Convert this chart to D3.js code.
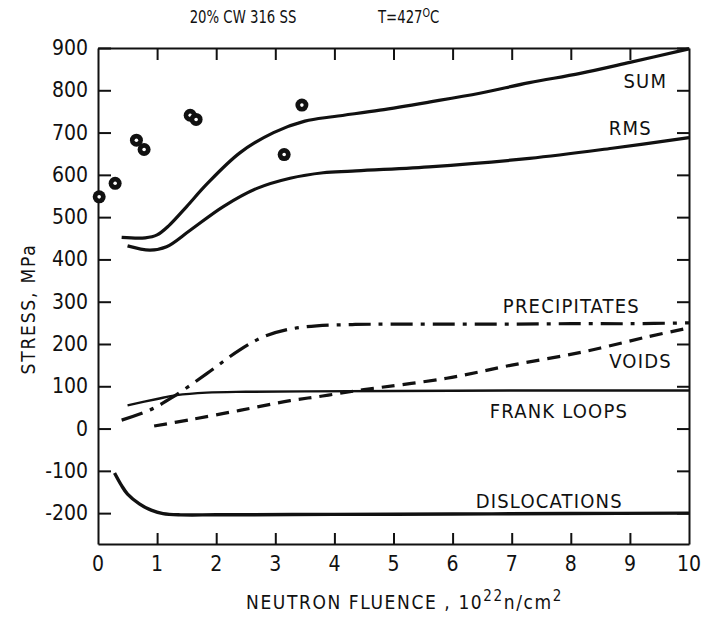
<!DOCTYPE html>
<html>
<head>
<meta charset="utf-8">
<script src="https://cdn.jsdelivr.net/npm/d3@7/dist/d3.min.js"></script>
<style>
  body { margin: 0; background: #fff; }
  text { font-family: "Liberation Sans Narrow", "DejaVu Sans Condensed", "DejaVu Sans", sans-serif; font-stretch: condensed; fill: #111; }
  .axis path, .axis line { stroke: #111; stroke-width: 2; }
</style>
</head>
<body>
<script>
// values (x = fluence 1e22 n/cm2, y = stress MPa)
const xTicks = [0, 1, 2, 3, 4, 5, 6, 7, 8, 9, 10];
const yTicks = [-200, -100, 0, 100, 200, 300, 400, 500, 600, 700, 800, 900];

const sumCurve = [[0.4, 452], [0.8, 451], [1.0, 458], [1.2, 480], [1.5, 525], [1.84, 578], [2.4, 652], [2.97, 700],
  [3.5, 727], [4.0, 738], [4.77, 753], [5.6, 772], [6.46, 793], [7.3, 818], [8.16, 840], [9.0, 866], [10, 898]];
const rmsCurve = [[0.5, 432], [0.88, 422], [1.16, 430], [1.56, 469], [2.12, 525], [2.69, 568], [3.25, 592],
  [3.81, 605], [4.3, 609], [5.6, 619], [7.3, 639], [8.7, 663], [10, 688]];
const precipCurve = [[0.4, 20], [0.88, 44], [1.27, 75], [1.84, 130], [2.4, 186], [2.8, 217], [3.2, 234],
  [3.7, 243], [4.3, 246], [5, 247], [6, 247], [7, 247], [8, 248], [9, 248], [10, 250]];
const voidsCurve = [[0.95, 6], [1.56, 21], [2.4, 43], [3.25, 66], [3.8, 77], [4.5, 92], [5.9, 119],
  [7.0, 150], [8.2, 181], [9.3, 217], [10, 238]];
const frankCurve = [[0.5, 55], [1.0, 70], [1.33, 79], [1.84, 85], [2.5, 87], [3.5, 88], [5, 89], [7, 90], [10, 90]];
const dislCurve = [[0.28, -105], [0.4, -135], [0.5, -155], [0.7, -178], [0.9, -193], [1.1, -201], [1.4, -204],
  [2, -204], [4, -203], [6, -202], [8, -201], [10, -200]];

const testPoints = [[0.02, 548], [0.29, 580], [0.65, 682], [0.78, 660], [1.56, 741], [1.66, 731], [3.15, 648], [3.45, 765]];

const curveNames = ["SUM", "RMS", "PRECIPITATES", "VOIDS", "FRANK LOOPS", "DISLOCATIONS"];
// label anchor (end of text, baseline) in data units
const labelSpots = [[9.63, 805], [9.37, 694], [9.17, 273], [9.71, 143], [8.97, 25], [8.88, -188]];

const width = 703, height = 628;
const svg = d3.select("body").append("svg")
  .attr("width", width)
  .attr("height", height);

const x = d3.scaleLinear().domain([0, 10]).range([98, 689]);
const y = d3.scaleLinear().domain([-273, 900]).range([544, 48]);

// frame + inward ticks on all four sides
svg.append("g").attr("class", "axis")
  .attr("transform", `translate(0,${y(-273)})`)
  .call(d3.axisBottom(x).tickValues(xTicks.slice(1, -1)).tickSizeInner(-11).tickSizeOuter(0).tickFormat(""));
svg.append("g").attr("class", "axis")
  .attr("transform", `translate(0,${y(900)})`)
  .call(d3.axisTop(x).tickValues(xTicks.slice(1, -1)).tickSizeInner(-12).tickSizeOuter(0).tickFormat(""));
svg.append("g").attr("class", "axis")
  .attr("transform", `translate(${x(0)},0)`)
  .call(d3.axisLeft(y).tickValues(yTicks).tickSizeInner(-13).tickSizeOuter(0).tickFormat(""));
svg.append("g").attr("class", "axis")
  .attr("transform", `translate(${x(10)},0)`)
  .call(d3.axisRight(y).tickValues(yTicks).tickSizeInner(-12).tickSizeOuter(0).tickFormat(""));

// tick labels
svg.selectAll(".ylab").data(yTicks).enter().append("text")
  .attr("class", "ylab")
  .attr("x", 88)
  .attr("y", d => y(d) + 7)
  .attr("text-anchor", "end")
  .style("font-size", "21px")
  .text(d => d);
svg.selectAll(".xlab").data(xTicks).enter().append("text")
  .attr("class", "xlab")
  .attr("x", d => x(d))
  .attr("y", 571)
  .attr("text-anchor", "middle")
  .style("font-size", "21px")
  .text(d => d);

// curves
const line = d3.line().x(d => x(d[0])).y(d => y(d[1])).curve(d3.curveCatmullRom.alpha(0.5));
const series = [
  { data: sumCurve, w: 3.2, dash: null },
  { data: rmsCurve, w: 3.2, dash: null },
  { data: precipCurve, w: 3.2, dash: "22,8,4,8" },
  { data: voidsCurve, w: 3.2, dash: "13,8" },
  { data: frankCurve, w: 2.4, dash: null },
  { data: dislCurve, w: 3.4, dash: null }
];
series.forEach(s => {
  svg.append("path")
    .attr("d", line(s.data))
    .attr("fill", "none")
    .attr("stroke", "#111")
    .attr("stroke-width", s.w)
    .attr("stroke-dasharray", s.dash);
});

// curve labels
curveNames.forEach((name, i) => {
  svg.append("text")
    .attr("x", x(labelSpots[i][0]))
    .attr("y", y(labelSpots[i][1]))
    .attr("text-anchor", "end")
    .style("font-size", "20px")
    .style("letter-spacing", "1.2px")
    .text(name);
});

// experimental points (numbered circles in the scan)
const pts = svg.selectAll(".pt").data(testPoints).enter().append("g")
  .attr("transform", d => `translate(${x(d[0])},${y(d[1])})`);
pts.append("circle").attr("r", 6.5).attr("fill", "#111");
pts.append("circle").attr("r", 1.8).attr("fill", "#fff");

// titles (narrow scan lettering, squeezed horizontally)
svg.append("text")
  .attr("transform", "translate(243,23) scale(0.82,1)")
  .attr("text-anchor", "middle")
  .style("font-size", "18px")
  .text("20% CW 316 SS");
const tt = svg.append("text")
  .attr("transform", "translate(378,23) scale(0.82,1)")
  .style("font-size", "18px");
tt.append("tspan").text("T=427");
tt.append("tspan").attr("dy", -6).style("font-size", "13px").text("O");
tt.append("tspan").attr("dy", 6).text("C");

const xt = svg.append("text")
  .attr("x", 246).attr("y", 609)
  .style("font-size", "19px")
  .style("letter-spacing", "1.6px");
xt.append("tspan").text("NEUTRON FLUENCE , 10");
xt.append("tspan").attr("dy", -8).style("font-size", "15px").text("22");
xt.append("tspan").attr("dy", 8).text("n/cm");
xt.append("tspan").attr("dy", -8).style("font-size", "15px").text("2");

svg.append("text")
  .attr("transform", "translate(35,309) rotate(-90)")
  .attr("text-anchor", "middle")
  .style("font-size", "19px")
  .style("letter-spacing", "1.8px")
  .text("STRESS, MPa");
</script>
</body>
</html>
